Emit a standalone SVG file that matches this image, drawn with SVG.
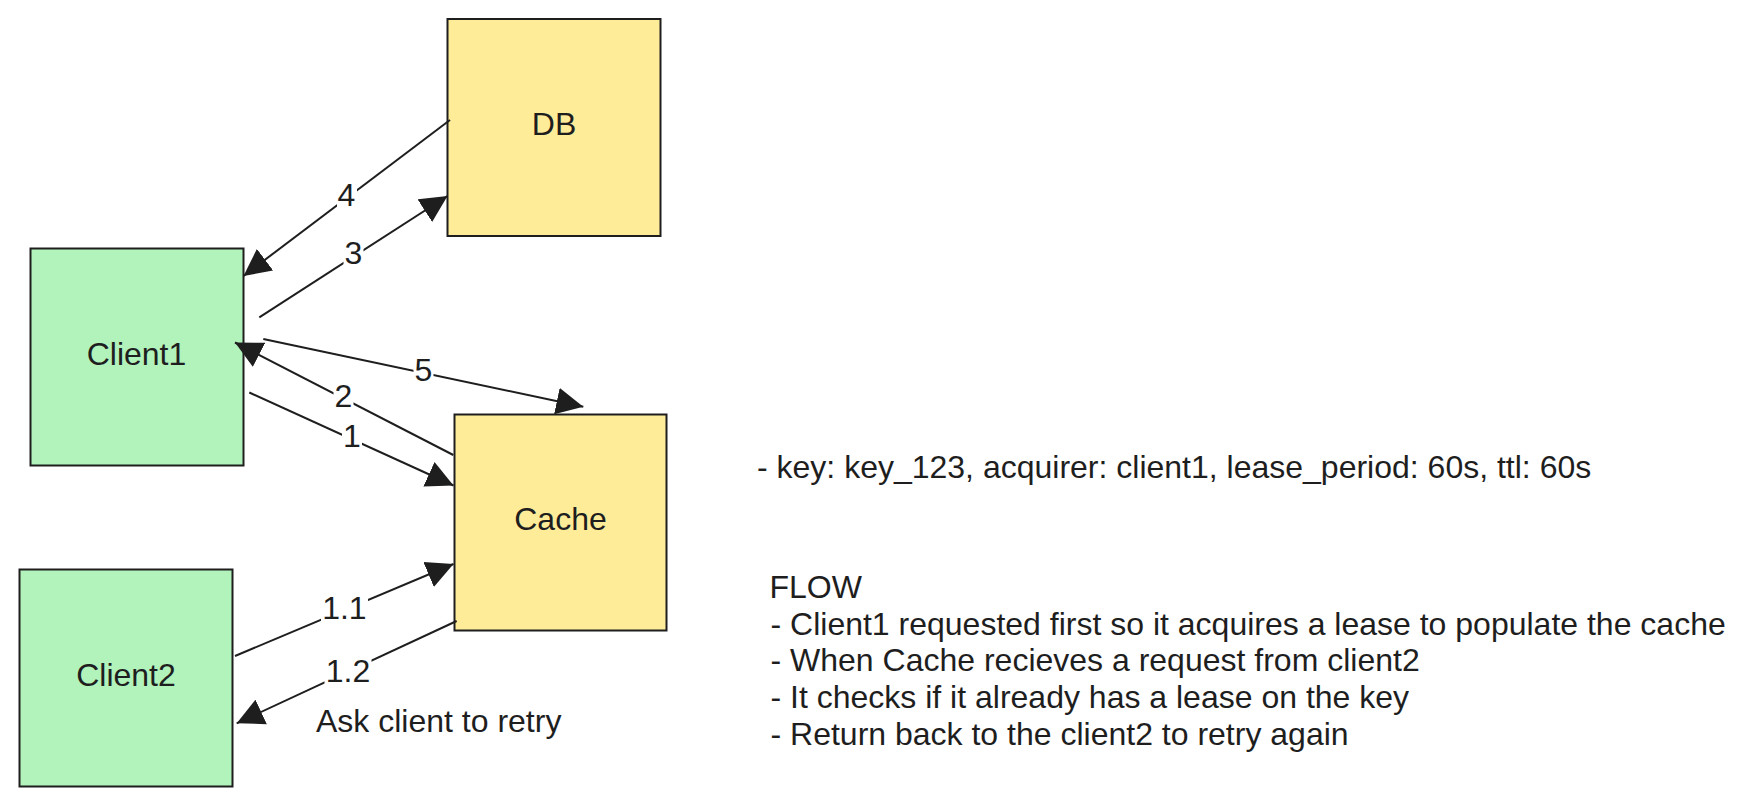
<svg xmlns="http://www.w3.org/2000/svg" width="1744" height="806" viewBox="0 0 1744 806">
<style>
  .box { stroke: #1e1e1e; stroke-width: 2; }
  .green { fill: #b2f2bb; }
  .yellow { fill: #ffec99; }
  text { font-family: "Liberation Sans", Arial, Helvetica, sans-serif; font-size: 32px; fill: #1e1e1e; }
  .c { text-anchor: middle; }
  .edge { stroke: #1e1e1e; stroke-width: 2; fill: none; marker-end: url(#arrow); }
  .lbg { fill: #ffffff; }
</style>
<defs>
  <marker id="arrow" markerUnits="userSpaceOnUse" markerWidth="28" markerHeight="28" viewBox="0 0 28 28" refX="27" refY="14" orient="auto">
    <path d="M0,0.5 L27,14 L0,27.5 Z" fill="#1e1e1e"/>
  </marker>
</defs>
<rect x="0" y="0" width="1744" height="806" fill="#ffffff"/>

<g id="node-db">
  <rect class="box yellow" x="447.5" y="19" width="213" height="217"/>
  <text class="c" x="554" y="135">DB</text>
</g>
<g id="node-client1">
  <rect class="box green" x="30.5" y="248.5" width="213" height="217"/>
  <text class="c" x="136.5" y="365">Client1</text>
</g>
<g id="node-cache">
  <rect class="box yellow" x="454.5" y="414.5" width="212" height="216"/>
  <text class="c" x="560.5" y="530">Cache</text>
</g>
<g id="node-client2">
  <rect class="box green" x="19.5" y="569.5" width="213" height="217"/>
  <text class="c" x="126" y="685.5">Client2</text>
</g>

<g id="connectors">
  <g id="edge-4">
    <line class="edge" x1="450" y1="120" x2="243.5" y2="276"/>
    <rect class="lbg" x="337" y="183" width="20" height="28"/>
    <text class="c" x="346.5" y="206">4</text>
  </g>
  <g id="edge-3">
    <line class="edge" x1="259.3" y1="317.3" x2="447.5" y2="196"/>
    <rect class="lbg" x="343.5" y="241" width="20" height="28"/>
    <text class="c" x="353.3" y="264">3</text>
  </g>
  <g id="edge-5">
    <line class="edge" x1="263.3" y1="339" x2="583.3" y2="406.7"/>
    <rect class="lbg" x="413.5" y="358" width="20" height="28"/>
    <text class="c" x="423.3" y="381">5</text>
  </g>
  <g id="edge-2">
    <line class="edge" x1="453.3" y1="455" x2="235" y2="342.5"/>
    <rect class="lbg" x="333.5" y="384" width="20" height="28"/>
    <text class="c" x="343.3" y="406.5">2</text>
  </g>
  <g id="edge-1">
    <line class="edge" x1="249.3" y1="392.5" x2="453.5" y2="485.5"/>
    <rect class="lbg" x="342" y="424" width="20" height="28"/>
    <text class="c" x="352" y="447">1</text>
  </g>
  <g id="edge-1-1">
    <line class="edge" x1="235" y1="656" x2="453.5" y2="564"/>
    <rect class="lbg" x="321" y="596" width="47" height="28"/>
    <text class="c" x="344.4" y="619">1.1</text>
  </g>
  <g id="edge-1-2">
    <line class="edge" x1="456.7" y1="621" x2="236.7" y2="723.3"/>
    <rect class="lbg" x="324.5" y="658" width="47" height="28"/>
    <text class="c" x="348" y="681.5">1.2</text>
  </g>
</g>

<text x="316" y="732">Ask client to retry</text>

<text x="757" y="478">- key: key_123, acquirer: client1, lease_period: 60s, ttl: 60s</text>

<g id="flow-notes">
  <text x="769.5" y="597.5">FLOW</text>
  <text x="770.5" y="634.5">- Client1 requested first so it acquires a lease to populate the cache</text>
  <text x="770.5" y="671">- When Cache recieves a request from client2</text>
  <text x="770.5" y="708">- It checks if it already has a lease on the key</text>
  <text x="770.5" y="745">- Return back to the client2 to retry again</text>
</g>
</svg>
